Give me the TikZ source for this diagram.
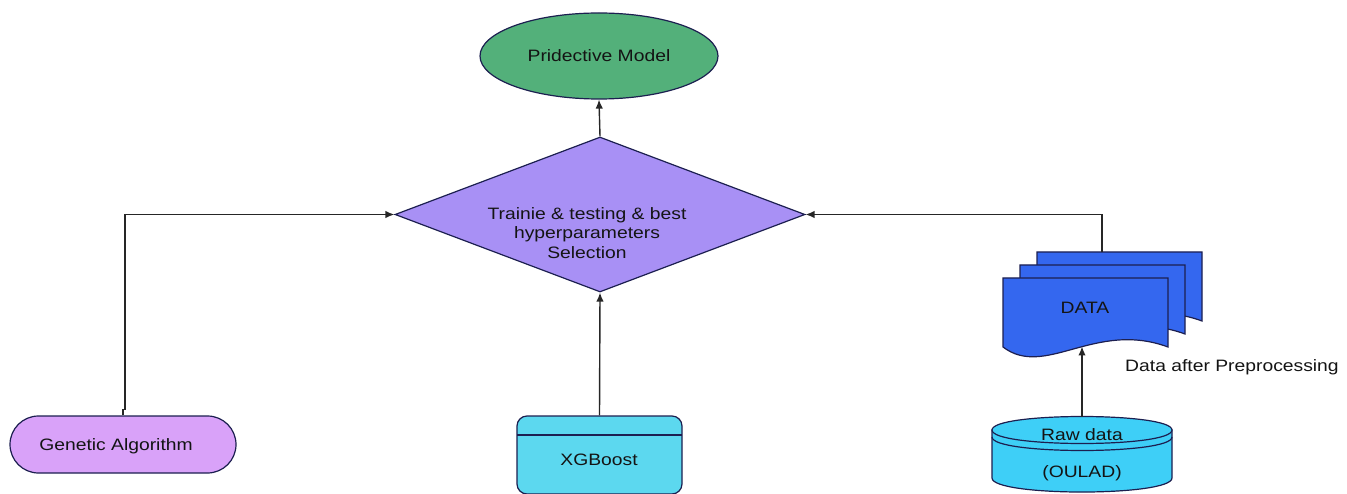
\documentclass[tikz,border=0pt]{standalone}
\usepackage{fontspec}
\setmainfont[FakeStretch=1.17]{Liberation Sans}
\usetikzlibrary{shapes.geometric,shapes.misc,arrows.meta}
\definecolor{edgec}{HTML}{1C1F50}
\definecolor{greenc}{HTML}{53B07A}
\definecolor{purplec}{HTML}{A890F5}
\definecolor{pinkc}{HTML}{D9A2F9}
\definecolor{cyanc}{HTML}{5CD8EF}
\definecolor{bluec}{HTML}{3467EF}
\definecolor{cylc}{HTML}{3ECFF7}
\definecolor{txtc}{HTML}{141414}
\begin{document}
\begin{tikzpicture}[x=1pt,y=-1pt,
  font=\fontsize{16.5}{19.5}\selectfont,
  every node/.style={text=txtc},
  outline/.style={draw=edgec, line width=1.2pt},
  conn/.style={line width=1.4pt, draw=black!85, -{Latex[length=9pt,width=7.5pt]}}]
\useasboundingbox (0,0) rectangle (1347,494);

% Predictive model
\node[ellipse, outline, fill=greenc, minimum width=238pt, minimum height=86pt, inner sep=0pt] (pm) at (599,56) {Pridective Model};

% Diamond
\node[diamond, outline, fill=purplec, minimum width=410pt, minimum height=155pt, inner sep=0pt] (dia) at (600,214.5) {};
\node[align=center, inner sep=0pt] (diat) at (587,233) {Trainie \& testing \& best\\hyperparameters\\Selection};

% Genetic algorithm
\node[rounded rectangle, outline, fill=pinkc, minimum width=226pt, minimum height=57pt, inner sep=0pt] (ga) at (123,444.5) {};
\node[inner sep=0pt] (gat) at (116,446) {Genetic Algorithm};

% XGBoost
\node[rectangle, rounded corners=10pt, outline, fill=cyanc, minimum width=165pt, minimum height=78pt, inner sep=0pt] (xg) at (599.5,455) {};
\draw[outline] (517,435) -- (682,435);
\node[inner sep=0pt] (xgt) at (599,460) {XGBoost};

% Documents
\foreach \dx/\dy in {34/-26,17/-13,0/0}{
  \begin{scope}[shift={(\dx,\dy)}]
    \path[outline, fill=bluec] (1003,278) -- (1168,278) -- (1168,347)
      .. controls (1095,320) and (1045,379) .. (1003,347) -- cycle;
  \end{scope}
}
\node[inner sep=0pt] (data) at (1085,308) {DATA};
\coordinate (datatop) at (1102,252);
\coordinate (databot) at (1082,346.5);
\node[anchor=west, inner sep=0pt] (prep) at (1125,367) {Data after Preprocessing};

% Cylinder
\path[outline, fill=cylc] (992,430) -- (992,478)
  .. controls (992,496.7) and (1172,496.7) .. (1172,478) -- (1172,430) -- cycle;
\path[outline, fill=cylc] (992,430) .. controls (992,412) and (1172,412) .. (1172,430)
  .. controls (1172,448) and (992,448) .. (992,430) -- cycle;
\draw[outline] (992,437) .. controls (992,455) and (1172,455) .. (1172,437);
\coordinate (rawtop) at (1082,416.5);
\node[inner sep=0pt] (rawt) at (1082,435) {Raw data};
\node[inner sep=0pt] (oulad) at (1082,473) {(OULAD)};

% Connectors
\draw[conn] (dia.north) -- (pm.south);
\draw[conn] (ga.north) -- ++(0,-6) -- ++(2,0) |- (dia.west);
\draw[conn] (xg.north) -- (dia.south);
\draw[conn] (datatop) |- (dia.east);
\draw[conn] (rawtop) -- (databot);
\end{tikzpicture}
\end{document}
